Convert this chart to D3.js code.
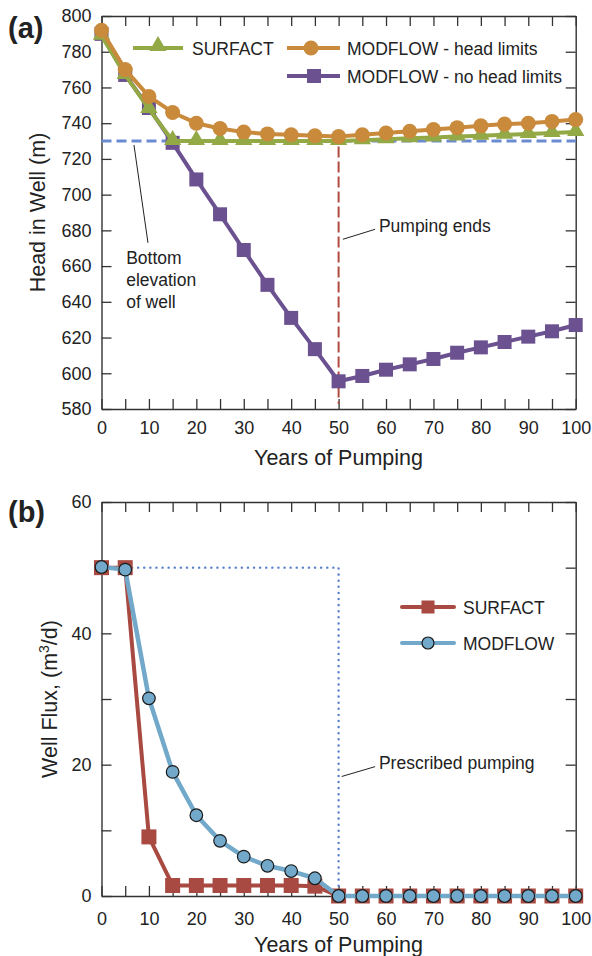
<!DOCTYPE html>
<html>
<head>
<meta charset="utf-8">
<script src="https://cdn.jsdelivr.net/npm/d3@7"></script>
<style>
  body { margin: 0; background: #fff; }
  svg { display: block; font-family: "Liberation Sans", Arial, sans-serif; }
</style>
</head>
<body>
<svg id="chart" width="592" height="956"></svg>
<script>
// years of pumping, every 5 years
const years = [0, 5, 10, 15, 20, 25, 30, 35, 40, 45, 50, 55, 60, 65, 70, 75, 80, 85, 90, 95, 100];

// panel (a) head in well (m)
const headSurfact = [789, 767, 748, 730, 730, 730, 730, 730, 730, 730, 730, 730.5, 731, 731.5, 732, 732.5, 733, 733.5, 734, 734.5, 735];
const headModflowLimits = [792, 770, 755, 746, 740, 737, 735, 734, 733.5, 733, 732.5, 733.5, 734.5, 735.5, 736.5, 737.5, 738.5, 739.5, 740, 741, 742];
const headModflowNoLimits = [790, 767, 748.5, 729, 708.5, 689, 669, 649.5, 631, 613.5, 595.5, 598.5, 602, 605, 608, 611.5, 614.5, 617.5, 620.5, 623.5, 627];

// panel (b) well flux (m3/d)
const fluxSurfact = [50, 50, 9, 1.6, 1.6, 1.6, 1.6, 1.6, 1.6, 1.5, 0, 0, 0, 0, 0, 0, 0, 0, 0, 0, 0];
const fluxModflow = [50.1, 49.7, 30.1, 18.9, 12.3, 8.4, 6.0, 4.6, 3.8, 2.7, 0, 0, 0, 0, 0, 0, 0, 0, 0, 0, 0];

// ticks
const yearTicks = d3.range(0, 101, 5);
const headTicks = d3.range(580, 801, 20);
const fluxTicks = d3.range(0, 61, 10);
const fluxLabels = [0, 20, 40, 60];

// reference values
const wellBottom = 730;
const pumpingEnd = 50;
const prescribedRate = 50;

const svg = d3.select("#chart");
const ink = "#222";
const frame = "#333";

const colors = {
  green: "#93a946",
  orange: "#c98a3c",
  purple: "#6b5190",
  red: "#a84a41",
  blue: "#72a8c9",
  dash: "#6b8bd1",
  endLine: "#b24a40",
  dots: "#5b80ca"
};

const x = d3.scaleLinear().domain([0, 100]).range([101.5, 575.7]);
const yA = d3.scaleLinear().domain([580, 800]).range([409, 16]);
const yB = d3.scaleLinear().domain([0, 60]).range([896, 502]);

function styleAxis(g) {
  g.selectAll("path.domain").attr("stroke", frame).attr("stroke-width", 1.4);
  g.selectAll(".tick line").attr("stroke", frame).attr("stroke-width", 1.3);
  g.selectAll(".tick text").attr("fill", ink).attr("font-size", 18)
    .attr("font-family", "Liberation Sans, Arial, sans-serif");
}

function drawFrame(y, yVals, yFmt, xPad) {
  const [y0, y1] = y.range();
  svg.append("g").attr("transform", `translate(0,${y0})`)
    .call(d3.axisBottom(x).tickValues(yearTicks).tickSize(-10).tickSizeOuter(0)
      .tickPadding(xPad).tickFormat(d => d % 10 === 0 ? d : ""))
    .call(styleAxis);
  svg.append("g").attr("transform", `translate(0,${y1})`)
    .call(d3.axisTop(x).tickValues(yearTicks).tickSize(-10).tickSizeOuter(0).tickFormat(""))
    .call(styleAxis);
  svg.append("g").attr("transform", `translate(${x.range()[0]},0)`)
    .call(d3.axisLeft(y).tickValues(yVals).tickSize(-10).tickSizeOuter(0).tickPadding(10).tickFormat(yFmt))
    .call(styleAxis);
  svg.append("g").attr("transform", `translate(${x.range()[1]},0)`)
    .call(d3.axisRight(y).tickValues(yVals).tickSize(-10).tickSizeOuter(0).tickFormat(""))
    .call(styleAxis);
}

function drawLine(y, vals, color, w) {
  const line = d3.line().x((d, i) => x(years[i])).y(d => y(d));
  svg.append("path").datum(vals)
    .attr("d", line).attr("fill", "none")
    .attr("stroke", color).attr("stroke-width", w)
    .attr("stroke-linejoin", "round");
}

function label(px, py, txt, size, weight) {
  return svg.append("text").attr("x", px).attr("y", py)
    .attr("fill", ink).attr("font-size", size).attr("font-weight", weight || "normal")
    .text(txt);
}

// ---------- panel (a) ----------
drawFrame(yA, headTicks, d => d, 12);

svg.append("line")
  .attr("x1", x(0)).attr("x2", x(100))
  .attr("y1", yA(wellBottom)).attr("y2", yA(wellBottom))
  .attr("stroke", colors.dash).attr("stroke-width", 3).attr("stroke-dasharray", "10,5");

svg.append("line")
  .attr("x1", x(pumpingEnd)).attr("x2", x(pumpingEnd))
  .attr("y1", yA(wellBottom - 3)).attr("y2", yA(583))
  .attr("stroke", colors.endLine).attr("stroke-width", 2).attr("stroke-dasharray", "11,4");

// purple - no head limits
drawLine(yA, headModflowNoLimits, colors.purple, 4);
svg.append("g").selectAll("rect").data(headModflowNoLimits).join("rect")
  .attr("x", (d, i) => x(years[i]) - 7).attr("y", d => yA(d) - 7)
  .attr("width", 14).attr("height", 14).attr("fill", colors.purple);

// green - SURFACT
drawLine(yA, headSurfact, colors.green, 4);
const tri = d3.symbol(d3.symbolTriangle, 130);
svg.append("g").selectAll("path").data(headSurfact).join("path")
  .attr("d", tri)
  .attr("transform", (d, i) => `translate(${x(years[i])},${yA(d) - 1})`)
  .attr("fill", colors.green);

// orange - head limits
drawLine(yA, headModflowLimits, colors.orange, 4);
svg.append("g").selectAll("circle").data(headModflowLimits).join("circle")
  .attr("cx", (d, i) => x(years[i])).attr("cy", d => yA(d))
  .attr("r", 7.5).attr("fill", colors.orange);

// legend (a)
svg.append("line").attr("x1", 133).attr("x2", 183).attr("y1", 48).attr("y2", 48)
  .attr("stroke", colors.green).attr("stroke-width", 4);
svg.append("path").attr("d", tri).attr("transform", "translate(158,46)").attr("fill", colors.green);
label(192, 54.5, "SURFACT", 17.5);

svg.append("line").attr("x1", 287).attr("x2", 340).attr("y1", 48).attr("y2", 48)
  .attr("stroke", colors.orange).attr("stroke-width", 4);
svg.append("circle").attr("cx", 311).attr("cy", 48).attr("r", 7.5).attr("fill", colors.orange);
label(347, 54.5, "MODFLOW - head limits", 17.5);

svg.append("line").attr("x1", 287).attr("x2", 340).attr("y1", 76).attr("y2", 76)
  .attr("stroke", colors.purple).attr("stroke-width", 4);
svg.append("rect").attr("x", 307).attr("y", 69).attr("width", 14).attr("height", 14).attr("fill", colors.purple);
label(347, 82.5, "MODFLOW - no head limits", 17.5);

// annotations (a)
svg.append("line")
  .attr("x1", x(6.85)).attr("y1", yA(727.8)).attr("x2", x(9.8)).attr("y2", yA(673))
  .attr("stroke", ink).attr("stroke-width", 1);
const bottomTxt = label(x(5.2), yA(664.5) + 6, null, 17.5);
["Bottom", "elevation", "of well"].forEach((t, i) => {
  bottomTxt.append("tspan").attr("x", x(5.2)).attr("dy", i === 0 ? 0 : 22).text(t);
});

svg.append("line")
  .attr("x1", x(50.9)).attr("y1", yA(675)).attr("x2", x(57.7)).attr("y2", yA(680.6))
  .attr("stroke", ink).attr("stroke-width", 1);
label(x(58.5), yA(682.4) + 6, "Pumping ends", 17.5);

// titles (a)
label(8, 38, "(a)", 29, "bold");
label(338.5, 465, "Years of Pumping", 21.5).attr("text-anchor", "middle");
svg.append("text")
  .attr("transform", `translate(45,${(yA.range()[0] + yA.range()[1]) / 2}) rotate(-90)`)
  .attr("text-anchor", "middle").attr("fill", ink).attr("font-size", 21.5)
  .text("Head in Well (m)");

// ---------- panel (b) ----------
drawFrame(yB, fluxTicks, d => fluxLabels.includes(d) ? d : "", 16);

// prescribed pumping
svg.append("path")
  .datum([[0, prescribedRate], [pumpingEnd, prescribedRate], [pumpingEnd, 0]])
  .attr("d", d3.line().x(d => x(d[0])).y(d => yB(d[1])))
  .attr("fill", "none").attr("stroke", colors.dots).attr("stroke-width", 2.4)
  .attr("stroke-linecap", "round").attr("stroke-dasharray", "0.1,6");

drawLine(yB, fluxSurfact, colors.red, 4);
svg.append("g").selectAll("rect").data(fluxSurfact).join("rect")
  .attr("x", (d, i) => x(years[i]) - 7.5).attr("y", d => yB(d) - 7.5)
  .attr("width", 15).attr("height", 15).attr("fill", colors.red);

drawLine(yB, fluxModflow, colors.blue, 4.5);
svg.append("g").selectAll("circle").data(fluxModflow).join("circle")
  .attr("cx", (d, i) => x(years[i])).attr("cy", d => yB(d))
  .attr("r", 6.3).attr("fill", colors.blue).attr("stroke", "#1a1a1a").attr("stroke-width", 1.2);

// legend (b)
svg.append("line").attr("x1", 402).attr("x2", 454).attr("y1", 607).attr("y2", 607)
  .attr("stroke", colors.red).attr("stroke-width", 4).attr("stroke-linecap", "round");
svg.append("rect").attr("x", 421.5).attr("y", 600.5).attr("width", 13).attr("height", 13).attr("fill", colors.red);
label(463, 613.5, "SURFACT", 17.5);

svg.append("line").attr("x1", 402).attr("x2", 454).attr("y1", 643).attr("y2", 643)
  .attr("stroke", colors.blue).attr("stroke-width", 4).attr("stroke-linecap", "round");
svg.append("circle").attr("cx", 428).attr("cy", 643).attr("r", 6)
  .attr("fill", colors.blue).attr("stroke", "#1a1a1a").attr("stroke-width", 1.2);
label(463, 649.5, "MODFLOW", 17.5);

// annotation (b)
svg.append("line")
  .attr("x1", x(50.65)).attr("y1", yB(18.2)).attr("x2", x(57.7)).attr("y2", yB(19.7))
  .attr("stroke", ink).attr("stroke-width", 1);
label(x(58.5), yB(20.25) + 6, "Prescribed pumping", 17.5);

// titles (b)
label(8, 522, "(b)", 29, "bold");
label(338.5, 952, "Years of Pumping", 21.5).attr("text-anchor", "middle");
const fluxTitle = svg.append("text")
  .attr("transform", `translate(57,${(yB.range()[0] + yB.range()[1]) / 2}) rotate(-90)`)
  .attr("text-anchor", "middle").attr("fill", ink).attr("font-size", 21.5);
fluxTitle.append("tspan").text("Well Flux, (m");
fluxTitle.append("tspan").attr("font-size", 14).attr("dy", -8).text("3");
fluxTitle.append("tspan").attr("dy", 8).text("/d)");
</script>
</body>
</html>
